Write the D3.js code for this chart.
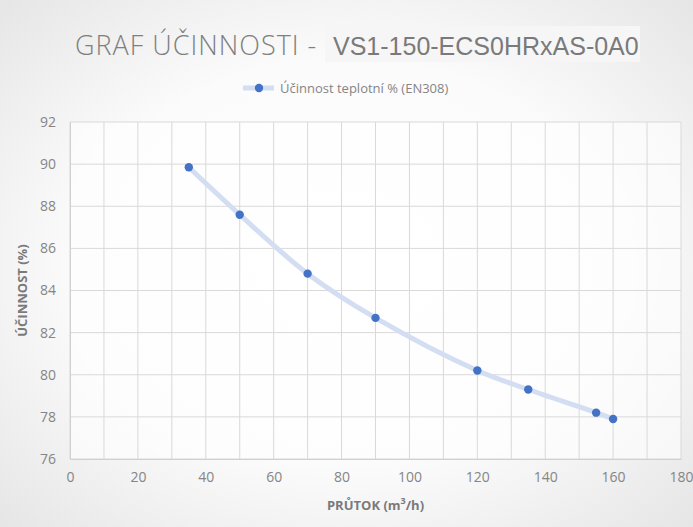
<!DOCTYPE html>
<html><head><meta charset="utf-8">
<script src="https://cdn.jsdelivr.net/npm/d3@7"></script>
<style>body{margin:0;padding:0;overflow:hidden}svg{display:block}</style>
</head><body>
<svg id="c" width="693" height="527"></svg>
<script>
const flows = [35, 50, 70, 90, 120, 135, 155, 160];
const efficiency = [89.85, 87.6, 84.8, 82.7, 80.2, 79.3, 78.2, 77.9];
const xTicks = [0, 20, 40, 60, 80, 100, 120, 140, 160, 180];
const yTicks = [76, 78, 80, 82, 84, 86, 88, 90, 92];
const seriesName = "Účinnost teplotní % (EN308)";
const titleA = "GRAF ÚČINNOSTI -";
const titleB = "VS1-150-ECS0HRxAS-0A0";
const xLabel = "PRŮTOK (m";
const yLabel = "ÚČINNOST (%)";

const svg = d3.select("#c");
const W = 693, H = 527;
const m = {l: 70, r: 12, t: 122, b: 68};
const defs = svg.append("defs");
const rg = defs.append("radialGradient").attr("id","bg").attr("cx","50%").attr("cy","50%").attr("r","70%");
rg.append("stop").attr("offset","0%").attr("stop-color","#ffffff");
rg.append("stop").attr("offset","55%").attr("stop-color","#fbfbfb");
rg.append("stop").attr("offset","100%").attr("stop-color","#e6e6e6");
svg.append("rect").attr("width",W).attr("height",H).attr("fill","url(#bg)");

const x = d3.scaleLinear().domain([0,180]).range([m.l, W-m.r]);
const y = d3.scaleLinear().domain([76,92]).range([H-m.b, m.t]);

svg.append("rect").attr("x",x(0)).attr("y",y(92)).attr("width",x(180)-x(0)).attr("height",y(76)-y(92)).attr("fill","#ffffff").attr("opacity",0.6);

// grid
const g = svg.append("g");
g.selectAll(".vg").data(d3.range(0,181,10)).enter().append("line")
 .attr("x1",d=>x(d)).attr("x2",d=>x(d)).attr("y1",y(76)).attr("y2",y(92))
 .attr("stroke","#d9d9d9").attr("stroke-width",1);
g.selectAll(".hg").data(yTicks).enter().append("line")
 .attr("x1",x(0)).attr("x2",x(180)).attr("y1",d=>y(d)).attr("y2",d=>y(d))
 .attr("stroke","#d9d9d9").attr("stroke-width",1);

// axes
const xa = svg.append("g").attr("transform",`translate(0,${y(76)})`)
 .call(d3.axisBottom(x).tickValues(xTicks).tickSize(0).tickPadding(13));
xa.select(".domain").attr("stroke","#d0d0d0");
xa.selectAll("text").attr("font-family","Open Sans, Noto Sans, sans-serif").attr("font-size",14).attr("fill","#858585");
const ya = svg.append("g").attr("transform",`translate(${x(0)},0)`)
 .call(d3.axisLeft(y).tickValues(yTicks).tickSize(0).tickPadding(14));
ya.select(".domain").attr("stroke","#d0d0d0");
ya.selectAll("text").attr("font-family","Open Sans, Noto Sans, sans-serif").attr("font-size",14).attr("fill","#858585");

// line
const data = flows.map((f,i)=>({x:f,y:efficiency[i]}));
const line = d3.line().x(d=>x(d.x)).y(d=>y(d.y)).curve(d3.curveCatmullRom.alpha(0.5));
svg.append("path").datum(data).attr("d",line).attr("fill","none")
 .attr("stroke","#d3def2").attr("stroke-width",5).attr("stroke-linecap","round");
svg.selectAll(".pt").data(data).enter().append("circle")
 .attr("cx",d=>x(d.x)).attr("cy",d=>y(d.y)).attr("r",4.2).attr("fill","#4472c4");

// title
const t = svg.append("text").attr("x",75).attr("y",55).attr("fill","#7f7f7f");
t.append("tspan").attr("font-family","Open Sans, Noto Sans, sans-serif").attr("font-weight",300).attr("font-size",27).attr("letter-spacing",1).text(titleA);
svg.append("rect").attr("x",325).attr("y",26).attr("width",315).attr("height",36).attr("fill","#f6f6f6");
svg.append("text").attr("x",333).attr("y",55).attr("fill","#7a7a7a")
 .attr("font-family","Liberation Sans, Arial, sans-serif").attr("font-size",25).text(titleB);

// legend
svg.append("line").attr("x1",243).attr("x2",274).attr("y1",88).attr("y2",88).attr("stroke","#d3def2").attr("stroke-width",5);
svg.append("circle").attr("cx",259).attr("cy",88).attr("r",4.2).attr("fill","#4472c4");
svg.append("text").attr("x",280).attr("y",93).attr("font-family","Open Sans, Noto Sans, sans-serif").attr("font-size",13).attr("fill","#858585").text(seriesName);

// axis labels
const xl = svg.append("text").attr("x",(x(0)+x(180))/2).attr("y",510).attr("text-anchor","middle")
 .attr("font-family","Open Sans, Noto Sans, sans-serif").attr("font-size",13).attr("font-weight",700).attr("fill","#7a7a7a");
xl.append("tspan").text(xLabel);
xl.append("tspan").attr("font-size",9).attr("dy",-6).text("3");
xl.append("tspan").attr("dy",6).text("/h)");
svg.append("text").attr("transform",`translate(27,${(y(76)+y(92))/2}) rotate(-90)`).attr("text-anchor","middle")
 .attr("font-family","Open Sans, Noto Sans, sans-serif").attr("font-size",13).attr("font-weight",700).attr("fill","#7a7a7a").text(yLabel);
</script>
</body></html>
